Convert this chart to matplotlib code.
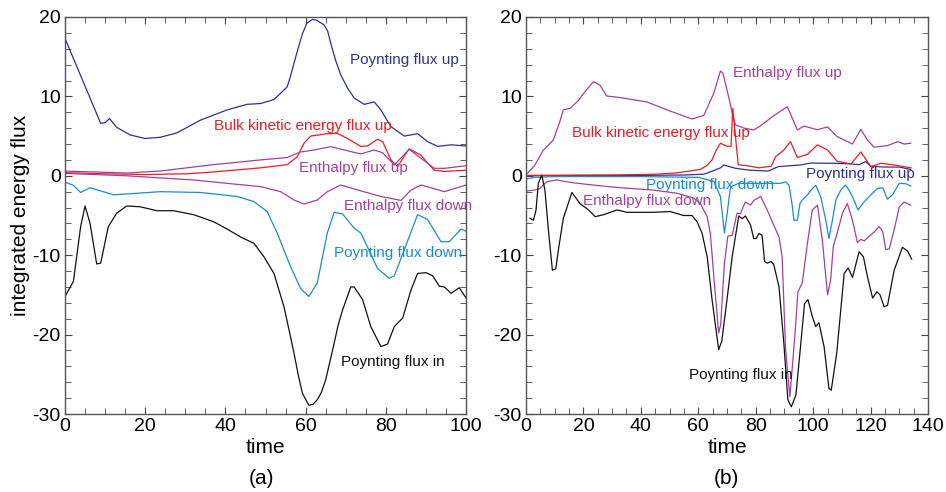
import matplotlib
matplotlib.use("Agg")
import matplotlib.pyplot as plt
from matplotlib.ticker import MultipleLocator

plt.rcParams["font.family"] = ["Liberation Sans", "DejaVu Sans"]
plt.rcParams["axes.unicode_minus"] = False

NAVY = "#2e3192"
RED = "#ec1c24"
PURPLE = "#a3429b"
CYAN = "#1b8bd0"
BLACK = "#111111"

# ---- panel (a) ----
a_pup_t = [0, 8.9, 10.0, 11.1, 12.9, 16.25, 20, 23.75, 27.9, 33.75, 40.4, 45.4, 48.75, 52.1,
           55.4, 56.2, 57.1, 58.2, 59.2, 60.3, 61.7, 62.7, 64.6, 65.5, 66.25, 67.5, 68.75,
           70.5, 72.1, 74.6, 77.1, 78.75, 81.25, 84.6, 87.9, 90.4, 92.9, 96.25, 100]
a_pup_v = [17.3, 6.6, 6.7, 7.2, 6.1, 5.14, 4.7, 4.85, 5.4, 7.0, 8.3, 9.0, 9.1, 9.6,
           11.2, 12.5, 14.2, 16.2, 17.9, 19.2, 19.7, 19.6, 19.0, 18.2, 16.7, 14.5, 12.7,
           11.0, 9.8, 9.0, 9.3, 8.3, 6.2, 5.0, 5.3, 4.3, 3.7, 3.9, 3.75]

a_bulk_t = [0, 10, 20, 30, 36.25, 48.75, 55.4, 57.9, 59.6, 61.25, 65.4, 67.9, 70.4, 73.75,
            75.4, 77.9, 79.2, 81.25, 82.9, 85.8, 88.75, 90.4, 92.1, 94.6, 100]
a_bulk_v = [0.4, 0.25, 0.15, 0.25, 0.45, 1.0, 1.4, 2.4, 4.1, 5.0, 5.3, 5.35, 4.7, 3.7,
            3.75, 4.6, 4.3, 2.0, 1.15, 3.4, 2.6, 1.6, 0.7, 0.55, 0.7]

a_hup_t = [0, 15.4, 23.75, 36.25, 48.75, 55.4, 58.75, 62.1, 66.25, 69.6, 73.75, 77.1, 79.2,
           82.1, 85.8, 88.75, 92.1, 94.6, 100]
a_hup_v = [0.6, 0.35, 0.6, 1.36, 2.0, 2.3, 3.0, 3.25, 3.67, 3.25, 2.75, 3.25, 2.9,
           1.36, 3.33, 2.2, 0.94, 0.94, 1.27]

a_hdn_t = [0, 15.4, 32.1, 48.75, 53.75, 57.1, 59.6, 62.9, 65.4, 68.75, 73.75, 78.75, 83.75,
           86.25, 88.75, 94.6, 100]
a_hdn_v = [0.3, 0.0, -0.53, -1.37, -2.0, -3.05, -3.55, -3.05, -2.0, -1.16, -1.9, -2.6, -3.1,
           -1.8, -1.16, -2.0, -1.16]

a_pdn_t = [0, 2.1, 3.9, 6.25, 12.1, 23.75, 33.75, 42.9, 47.1, 50.4, 52.9, 56.25, 58.75, 60.8,
           62.9, 65.4, 67.1, 69.2, 72.1, 73.75, 77.9, 80.8, 82.1, 84.6, 87.9, 90.4, 93.75,
           95.8, 98.75, 100]
a_pdn_v = [-0.8, -1.2, -2.1, -1.5, -2.4, -2.0, -2.1, -2.6, -3.25, -4.5, -7.2, -11.45, -14.2, -15.2,
           -13.5, -7.2, -4.6, -4.8, -6.6, -7.2, -11.65, -12.9, -12.6, -9.3, -4.9, -5.5, -8.3,
           -8.3, -6.7, -7.0]

a_pin_t = [0, 2.1, 3.9, 5.0, 6.25, 7.9, 8.9, 10.8, 12.9, 15.4, 18.75, 22.9, 27.1, 32.1, 37.1,
           40.4, 43.75, 47.1, 49.6, 52.1, 54.6, 55.9, 57.1, 58.2, 59.2, 60.8, 61.8, 62.9, 63.9,
           65, 66, 67.1, 68.1, 69.2, 71.25, 72.1, 74.2, 76.25, 78.75, 80.4, 82.1, 84.2, 86.25,
           87.9, 90, 91.7, 93.3, 94.6, 96.25, 98.3, 100]
a_pin_v = [-15.2, -13.3, -6.4, -3.8, -6.0, -11.1, -11.0, -6.4, -4.7, -3.8, -3.9, -4.4, -4.4, -4.9, -5.8,
           -6.7, -7.7, -8.5, -10.2, -12.3, -16.5, -19.5, -22.35, -25.2, -27.4, -28.9, -28.8, -28.2, -27.3,
           -25.7, -23.5, -21.1, -18.8, -16.9, -14.0, -14.0, -15.6, -19.0, -21.5, -21.2, -19.0, -17.9, -14.4,
           -12.3, -12.2, -12.6, -13.9, -14.0, -14.8, -14.1, -15.4]

# ---- panel (b) ----
b_hup_t = [0.5, 3, 6, 9.5, 11.5, 13, 15.4, 18.3, 21, 23.5, 25.8, 28.1, 32.8, 37, 42.1, 49.1,
           57.8, 61.9, 65.4, 67.7, 68.6, 70.6, 72.4, 73.0, 76, 79.3, 81.7, 86, 91.0, 94.5,
           96.8, 101.4, 105, 108.4, 113.7, 116.6, 118.9, 121.2, 125.9, 129.4, 131.7, 134.0]
b_hup_v = [0.3, 1.3, 3.2, 4.5, 6.5, 8.3, 8.5, 9.5, 10.8, 11.85, 11.4, 10.05, 9.85, 9.6, 9.3, 8.3,
           7.15, 7.6, 10.4, 13.2, 12.9, 9.9, 7.0, 6.4, 6.0, 5.77, 6.3, 7.5, 8.7, 5.77,
           6.27, 5.8, 6.15, 4.93, 4.0, 5.85, 4.5, 3.6, 3.8, 4.3, 4.0, 4.1]

b_bulk_t = [0, 30, 45, 52, 57, 60.7, 63, 64.8, 66.2, 67.7, 70.1, 71.4, 72.0, 73.9, 78.2, 81,
            85.4, 86.9, 89.8, 92.1, 94.5, 98, 101.5, 105, 108.4, 113.2, 116.6, 120.1, 123.6,
            128.2, 134]
b_bulk_v = [0.05, 0.1, 0.2, 0.35, 0.6, 0.8, 1.3, 2.0, 3.2, 4.1, 3.7, 3.7, 8.5, 1.4, 1.2, 1.0,
            1.2, 2.4, 3.25, 4.3, 2.3, 2.7, 3.9, 3.25, 1.8, 1.5, 3.0, 1.15, 1.57,
            1.36, 1.0]

b_pup_t = [0, 20, 40, 55, 62, 65, 67.7, 68.9, 73, 78, 84.4, 87.8, 95.6, 99, 107.3, 113, 116,
           118.3, 120, 125, 130, 134]
b_pup_v = [0.0, 0.05, 0.05, 0.1, 0.2, 0.6, 1.0, 1.36, 0.94, 0.7, 0.6, 1.15, 1.36, 1.6, 1.57, 1.5, 1.4,
           1.8, 1.2, 1.1, 1.1, 0.8]

b_pdn_t = [0, 3, 10, 40, 60, 65.4, 67.7, 69.1, 70.0, 71.2, 74, 78.2, 85.4, 88.7, 90.4, 91.6,
           92.7, 93.3, 94.5, 95.4, 96.2, 98.0, 99.7, 100.9, 102.6, 104.4, 105.5, 106.7, 107.9,
           109.6, 111.3, 112.5, 114.2, 115.6, 117.7, 120.1, 122.4, 124.2, 125.9, 127.6, 130.0,
           132.3, 134.0]
b_pdn_v = [-0.4, -0.2, -0.1, -0.1, -0.2, -0.7, -2.6, -7.2, -4.9, -1.4, -0.95, -0.95, -0.95, -0.95, -0.75, -1.2,
           -3.7, -5.6, -5.6, -3.5, -3.05, -2.4, -1.6, -1.2, -2.6, -5.6, -7.9, -5.6, -3.05,
           -1.8, -1.16, -1.8, -3.05, -4.3, -3.3, -2.4, -1.6, -1.5, -2.95, -2.4, -0.95,
           -1.0, -1.3]

b_hdn_t = [0.5, 3.1, 4.9, 7.2, 10.7, 15.4, 21.2, 27, 32.8, 44.4, 52.6, 58.4, 60.7, 63.1, 64.2,
           65.6, 67.1, 67.8, 69.1, 70.3, 71.8, 73.5, 74.6, 76.4, 78.2, 79.3, 81.7, 84, 85.8,
           88.1, 89.2, 90.4, 91.9, 93.6, 94.7, 96.2, 98, 99.7, 101.5, 103.2, 105.0, 106.1,
           107.0, 108.4, 110.2, 111.9, 113.7, 115.4, 116.6, 117.8, 119.5, 121.2, 123, 124.2,
           125.3, 126.5, 128.2, 130, 131.7, 134]
b_hdn_v = [-1.9, -1.8, -1.6, -0.74, -0.53, -0.83, -1.08, -1.3, -1.5, -1.8, -2.2, -2.8, -3.5, -5.15, -7.25,
           -13.5, -19.8, -18.7, -11.0, -7.6, -7.5, -4.7, -4.8, -3.3, -3.7, -3.1, -2.6, -4.3, -5.8,
           -7.7, -10.2, -21.9, -27.8, -20.3, -14.6, -13.5, -8.5, -4.3, -3.7, -8.1, -15.0, -13.1,
           -8.9, -7.2, -4.7, -3.5, -5.6, -8.4, -8.0, -8.2, -7.6, -7.1, -6.4, -7.0,
           -9.3, -9.2, -6.8, -3.9, -3.3, -3.7]

b_pin_t = [1.4, 2.6, 3.5, 4.3, 5.5, 6.6, 7.8, 9.2, 10.4, 11.3, 13.0, 16.0, 18.8, 21.8, 24.1, 27,
           31.7, 35.2, 44.4, 50.2, 54.9, 57.8, 59.6, 61.3, 63.1, 64.8, 67.1, 68.2, 70.0, 71.8,
           74.1, 75.3, 76.4, 78.2, 79.3, 80.2, 81.1, 82.2, 83.1, 84.0, 85.4, 86.3, 88.1, 89.8,
           91.2, 92.4, 94, 95.6, 97.0, 98.2, 99.7, 100.9, 102, 103.8, 105.5, 106.3, 108.2,
           110.8, 112.2, 113.7, 116.0, 117.5, 118.9, 120.7, 122.2, 123.3, 124.7, 125.9, 128.2,
           131.1, 132.9, 134.3]
b_pin_v = [-5.35, -5.6, -4.3, -0.95, 0.1, -1.8, -6.8, -11.9, -11.7, -9.3, -5.35, -2.1, -3.5, -4.3, -5.15, -4.9,
           -4.3, -4.6, -4.6, -4.5, -5.0, -5.0, -5.8, -7.2, -10.2, -15.6, -21.9, -20.8, -15.6, -10.2,
           -5.06, -5.4, -5.06, -6.2, -7.9, -7.9, -7.25, -7.5, -10.8, -11.0, -10.8, -11.2, -13.97, -21.1,
           -28.2, -29.1, -27.6, -21.5, -16.1, -15.6, -17.7, -19.0, -18.5, -21.5, -26.8, -27.0, -22.35,
           -12.3, -11.6, -12.8, -9.56, -10.2, -12.7, -15.4, -14.6, -15.0, -16.5, -16.3, -11.9,
           -9.0, -9.5, -10.5]

fig = plt.figure(figsize=(9.46, 4.92), dpi=100)
ax_a = fig.add_axes([0.0687, 0.1585, 0.424, 0.807])
ax_b = fig.add_axes([0.556, 0.1585, 0.425, 0.807])

lw = 0.9
ax_a.plot(a_pup_t, a_pup_v, color=NAVY, lw=lw)
ax_a.plot(a_bulk_t, a_bulk_v, color=RED, lw=lw)
ax_a.plot(a_hup_t, a_hup_v, color=PURPLE, lw=lw)
ax_a.plot(a_hdn_t, a_hdn_v, color=PURPLE, lw=lw)
ax_a.plot(a_pdn_t, a_pdn_v, color=CYAN, lw=lw)
ax_a.plot(a_pin_t, a_pin_v, color=BLACK, lw=lw)

ax_b.plot(b_hup_t, b_hup_v, color=PURPLE, lw=lw)
ax_b.plot(b_pup_t, b_pup_v, color=NAVY, lw=lw)
ax_b.plot(b_bulk_t, b_bulk_v, color=RED, lw=lw)
ax_b.plot(b_pdn_t, b_pdn_v, color=CYAN, lw=lw)
ax_b.plot(b_hdn_t, b_hdn_v, color=PURPLE, lw=lw)
ax_b.plot(b_pin_t, b_pin_v, color=BLACK, lw=lw)

# curve labels
fs = 11
ax_a.text(84.5, 14.6, "Poynting flux up", color=NAVY, fontsize=fs, ha="center", va="center")
ax_a.text(59.3, 6.3, "Bulk kinetic energy flux up", color=RED, fontsize=fs, ha="center", va="center")
ax_a.text(71.8, 1.0, "Enthalpy flux up", color=PURPLE, fontsize=fs, ha="center", va="center")
ax_a.text(85.5, -3.8, "Enthalpy flux down", color=PURPLE, fontsize=fs, ha="center", va="center")
ax_a.text(83.0, -9.7, "Poynting flux down", color=CYAN, fontsize=fs, ha="center", va="center")
ax_a.text(81.8, -23.45, "Poynting flux in", color=BLACK, fontsize=fs, ha="center", va="center")

ax_b.text(91.1, 12.95, "Enthalpy flux up", color=PURPLE, fontsize=fs, ha="center", va="center")
ax_b.text(47.1, 5.4, "Bulk kinetic energy flux up", color=RED, fontsize=fs, ha="center", va="center")
ax_b.text(64.2, -1.15, "Poynting flux down", color=CYAN, fontsize=fs, ha="center", va="center")
ax_b.text(116.6, 0.23, "Poynting flux up", color=NAVY, fontsize=fs, ha="center", va="center")
ax_b.text(42.2, -3.2, "Enthalpy flux down", color=PURPLE, fontsize=fs, ha="center", va="center")
ax_b.text(74.7, -25.1, "Poynting flux in", color=BLACK, fontsize=fs, ha="center", va="center")

for ax, xmax in ((ax_a, 100), (ax_b, 140)):
    ax.set_xlim(0, xmax)
    ax.set_ylim(-30, 20)
    ax.xaxis.set_major_locator(MultipleLocator(20))
    ax.xaxis.set_minor_locator(MultipleLocator(5))
    ax.yaxis.set_major_locator(MultipleLocator(10))
    ax.yaxis.set_minor_locator(MultipleLocator(2))
    ax.tick_params(which="both", direction="in", top=True, right=True, color="#444444")
    ax.tick_params(which="major", length=5, labelsize=14, pad=3)
    ax.tick_params(which="minor", length=4)
    for s in ax.spines.values():
        s.set_color("#555555")
        s.set_linewidth(1.0)
    ax.set_xlabel("time", fontsize=15, labelpad=2)

ax_a.set_ylabel("integrated energy flux", fontsize=15, labelpad=2)

fig.text(0.276, 0.028, "(a)", fontsize=15, ha="center", va="center")
fig.text(0.768, 0.028, "(b)", fontsize=15, ha="center", va="center")

fig.savefig("out.png", dpi=100)
